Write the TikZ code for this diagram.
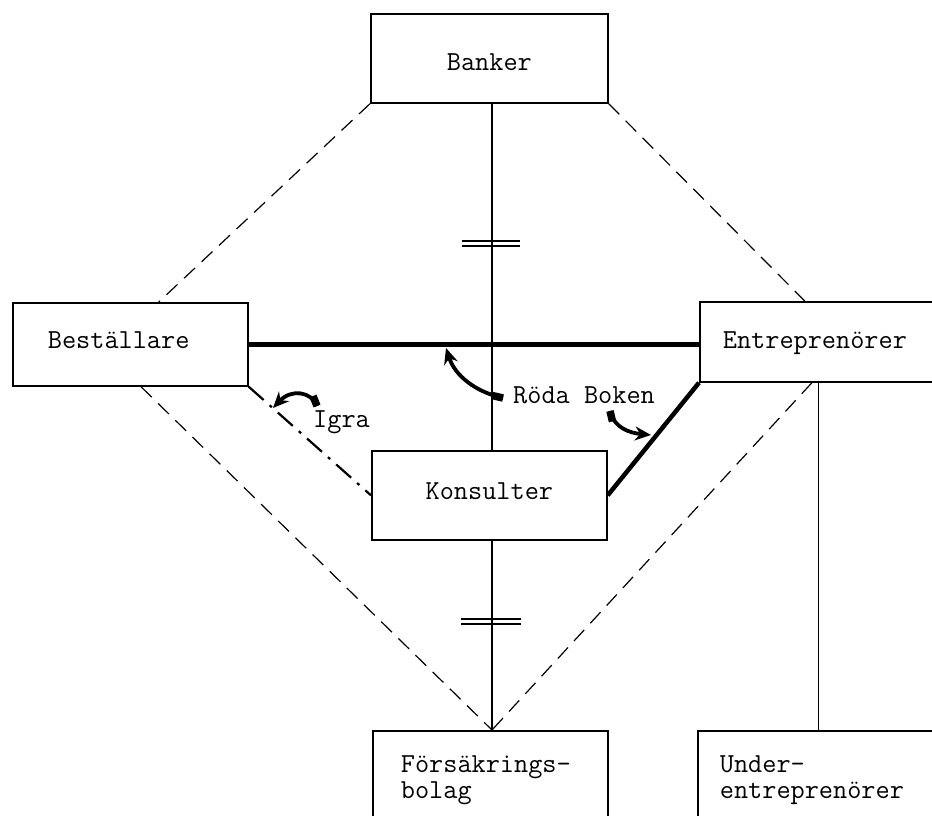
\documentclass[tikz,border=0pt]{standalone}
\usepackage{fontspec}
\usetikzlibrary{arrows.meta,calc}
\newcommand{\mfont}{\fontsize{27.5}{26}\selectfont\ttfamily}
\begin{document}
\begin{tikzpicture}[x=1pt,y=-1pt,
  box/.style={draw, line width=1.7pt, font=\mfont, anchor=north west, inner ysep=0pt},
  one/.style={text height=17pt, text depth=9pt},
  link/.style={line width=1.2pt},
  dashlink/.style={line width=1.2pt, dash pattern=on 15pt off 9pt},
  dashdot/.style={line width=2.2pt, dash pattern=on 20pt off 8pt on 3pt off 8pt},
  heavy/.style={line width=4.5pt},
  curv/.style={line width=3.8pt, -{Stealth[length=16pt,width=14pt]}},
  tailstub/.style={line width=7.5pt, line cap=butt},
  dbl/.style={line width=1.6pt},
  lbl/.style={font=\mfont, inner sep=0pt, anchor=base west}]
\useasboundingbox (0,0) rectangle (932,816);
\clip (0,0) rectangle (932,816);

% boxes
\node[box, one, text height=25pt, text depth=0pt, minimum width=237pt, minimum height=89pt] (banker) at (370,13) {Banker};
\node[box, one, text width=165pt, inner xsep=35pt, align=left, minimum height=83pt] (best) at (12,302) {Beställare};
\node[box, one, text depth=3pt, text width=191pt, inner xsep=23pt, align=left, minimum height=80pt] (entr) at (699,301) {Entreprenörer};
\node[box, one, minimum width=235pt, minimum height=89pt] (kons) at (371,450) {Konsulter};
\node[box, text width=179pt, inner xsep=28pt, align=left, minimum height=99pt] (fors) at (372,730) {Försäkrings-\\bolag};
\node[box, text width=199pt, inner xsep=22pt, align=left, minimum height=99pt] (under) at (697,730) {Under-\\entreprenörer};

% labels
\node[lbl] (roda) at (513,403) {Röda Boken};
\node[lbl] (igra) at (313,427) {Igra};

\coordinate (vx) at (492,0);

% vertical spine
\draw[link] (banker.south -| vx) -- (kons.north -| vx);
\draw[link] (kons.south -| vx) -- (fors.north -| vx);
\draw[link] (entr.south) -- (entr.south |- under.north);

% double ticks
\draw[dbl] (462,241) -- (520,241);
\draw[dbl] (462,246) -- (520,246);
\draw[dbl] (461,619) -- (521,619);
\draw[dbl] (461,624) -- (521,624);

% dashed diamond
\draw[dashlink] (banker.south west) -- ($(best.north west)!0.62!(best.north east)$);
\draw[dashlink] (banker.south east) -- ($(entr.north west)!0.443!(entr.north east)$);
\draw[dashlink] ($(best.south west)!0.545!(best.south east)$) -- (fors.north -| vx);
\draw[dashlink] ($(entr.south west)!0.473!(entr.south east)$) -- (fors.north -| vx);

% heavy lines
\draw[heavy] (best.east) -- (entr.west |- best.east);
\draw[heavy] (entr.south west) -- (kons.east);
\draw[dashdot] (best.south east) -- (kons.west);

% curved arrows
\draw[curv] (503,398) .. controls (476,392) and (455,376) .. (446,348);
\draw[tailstub] (503,398) -- (492,395.5);
\draw[curv] (610,411) .. controls (614,428) and (630,433) .. (651,435);
\draw[tailstub] (610,411) -- (612.5,421.5);
\draw[curv] (317,406) .. controls (311,391) and (291,389) .. (273,408);
\draw[tailstub] (317,406) -- (313,396);
\end{tikzpicture}
\end{document}
